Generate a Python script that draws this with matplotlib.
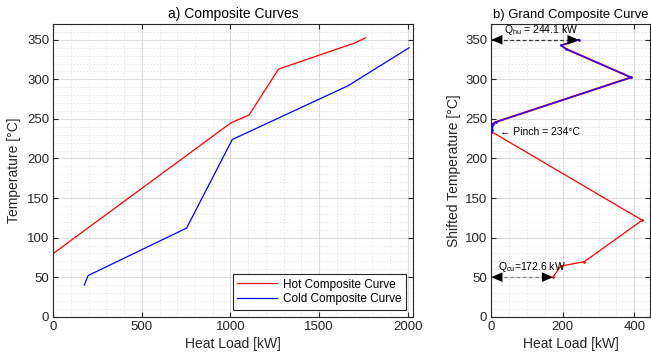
import matplotlib
matplotlib.use("Agg")
import matplotlib.pyplot as plt
import numpy as np

plt.rcParams['font.family'] = ['Liberation Sans', 'DejaVu Sans']

# composite curves (heat load kW, temperature C)
hot_q = [0, 1002, 1105, 1271, 1701, 1762]
hot_t = [80, 245, 255, 313, 346, 352.5]
cold_q = [175, 196, 752, 1010, 1664, 2008]
cold_t = [40, 52, 112, 224, 292, 340]

# grand composite curve, above pinch then below pinch
gcc_hi_q = [244.1, 195, 209, 391, 12, 5, 2, 0]
gcc_hi_t = [350, 343, 338.5, 302.5, 246, 244, 236, 234]
gcc_lo_q = [0, 422, 260, 194, 172.6]
gcc_lo_t = [234, 122, 69.5, 64, 50]

Q_hu = 244.1
Q_cu = 172.6
T_pinch = 234

DARK = '#262626'


def style_axes(ax, xmaj, xmin, xlim):
    ax.set_xlim(*xlim)
    ax.set_ylim(0, 370)
    ax.set_xticks(np.arange(0, xlim[1] + 1, xmaj))
    ax.set_xticks(np.arange(0, xlim[1] + 1, xmin), minor=True)
    ax.set_yticks(np.arange(0, 351, 50))
    ax.set_yticks(np.arange(0, 371, 10), minor=True)
    ax.grid(True, which='major', color='#dcdcdc', lw=0.8)
    ax.grid(True, which='minor', color='#e4e4e4', lw=0.6, ls=(0, (2, 2)))
    ax.set_axisbelow(True)
    ax.tick_params(which='both', direction='in', top=True, right=True,
                   colors=DARK, labelsize=9.5, pad=3)
    ax.tick_params(which='major', length=3.5, width=0.8)
    ax.tick_params(which='minor', length=0)
    for s in ax.spines.values():
        s.set_color(DARK)
        s.set_linewidth(0.8)


fig = plt.figure(figsize=(6.51, 3.61), dpi=100)
ax1 = fig.add_axes([0.0819, 0.1227, 0.5525, 0.8108])
ax2 = fig.add_axes([0.7547, 0.1227, 0.2438, 0.8108])

# a) composite curves
ax1.plot(hot_q, hot_t, color='#ff0000', lw=0.9, label='Hot Composite Curve')
ax1.plot(cold_q, cold_t, color='#0000ff', lw=0.9, label='Cold Composite Curve')
style_axes(ax1, 500, 100, (0, 2030))
ax1.set_title('a) Composite Curves', fontsize=10, color='black', pad=4)
ax1.set_xlabel('Heat Load [kW]', fontsize=10, color=DARK, labelpad=3)
ax1.set_ylabel('Temperature [°C]', fontsize=10, color=DARK, labelpad=4)
leg = ax1.legend(loc='lower right', fontsize=8.5, fancybox=False, framealpha=1,
                 edgecolor=DARK, borderpad=0.35, handlelength=3.4,
                 borderaxespad=0.6, labelspacing=0.25, handletextpad=0.5)
leg.get_frame().set_linewidth(0.8)

# b) grand composite curve
ax2.plot(gcc_hi_q, gcc_hi_t, color='#ff0000', lw=1.4)
ax2.plot(gcc_lo_q, gcc_lo_t, '.-', color='#ff0000', lw=0.9, ms=2)
ax2.plot(gcc_hi_q, gcc_hi_t, '.-', color='#2a00ee', lw=1.0, ms=2)
style_axes(ax2, 200, 50, (0, 444))
ax2.set_title('b) Grand Composite Curve', fontsize=9.4, color='black', pad=4)
ax2.set_xlabel('Heat Load [kW]', fontsize=10, color=DARK, labelpad=3)
ax2.set_ylabel('Shifted Temperature [°C]', fontsize=10, color=DARK, labelpad=3)

# utility arrows
for q, t, c in [(Q_hu, 350, '#333333'), (Q_cu, 50, '#888888')]:
    ax2.plot([0, q], [t, t], ls=(0, (3, 2)), color=c, lw=0.9)
    for a, b in [(0, 28), (q, q - 28)]:
        ax2.annotate('', xy=(a, t), xytext=(b, t),
                     arrowprops=dict(arrowstyle='-|>,head_length=0.8,head_width=0.35',
                                     color='black', lw=0, shrinkA=0, shrinkB=0))

ax2.text(36, 354, r'$\mathregular{Q_{hu}}$ = %.1f kW' % Q_hu, fontsize=7.5, va='bottom')
ax2.text(20, 54, r'$\mathregular{Q_{cu}}$=%.1f kW' % Q_cu, fontsize=7.5, va='bottom')
ax2.text(25, T_pinch, '← Pinch = %d°C' % T_pinch, fontsize=7.5, va='center')

fig.savefig('out.png', dpi=100)
